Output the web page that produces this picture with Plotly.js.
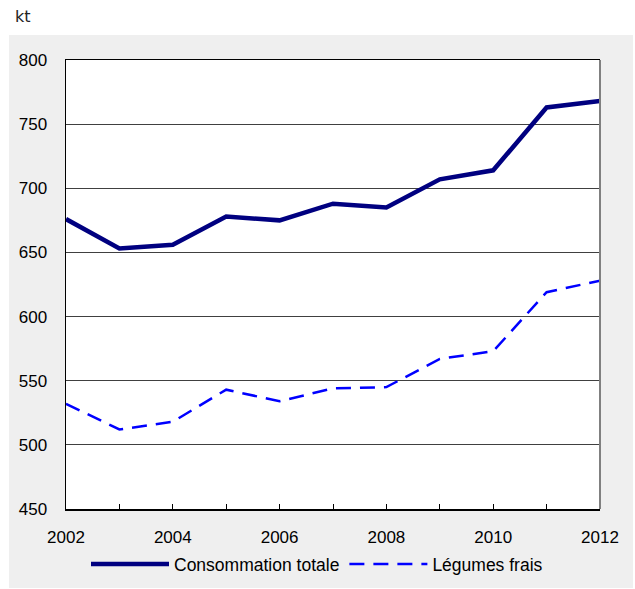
<!DOCTYPE html>
<html>
<head>
<meta charset="utf-8">
<script src="https://cdn.plot.ly/plotly-3.0.1.min.js"></script>
<style>html,body{margin:0;padding:0;background:#fff;}#chart{width:635px;height:589px;}</style>
</head>
<body>
<div id="chart"></div>
<script>
var years = [2002, 2003, 2004, 2005, 2006, 2007, 2008, 2009, 2010, 2011, 2012];
var consommationTotale = [676, 653, 656, 678, 675, 688, 685, 707, 714, 763, 768];
var legumesFrais = [532, 512, 518, 543, 534, 544, 545, 567, 573, 619, 628];
var xTickLabels = ['2002', '', '2004', '', '2006', '', '2008', '', '2010', '', '2012'];
var seriesNames = ['Consommation totale', 'Légumes frais'];
var unitLabel = 'kt';

var FONT = 'Liberation Sans, Arial, sans-serif';
var W = 635, H = 589, mL = 66, mR = 35, mT = 60, mB = 80;
var pw = W - mL - mR, ph = H - mT - mB;
function px(x) { return (x - mL) / pw; }
function py(y) { return (H - mB - y) / ph; }

var traces = [
  {x: years, y: consommationTotale, name: seriesNames[0], type: 'scatter', mode: 'lines',
   line: {color: '#000080', width: 4.5}},
  {x: years, y: legumesFrais, name: seriesNames[1], type: 'scatter', mode: 'lines',
   line: {color: '#0000ff', width: 2.5, dash: '15px,9px'}}
];

var layout = {
  width: W, height: H,
  margin: {l: mL, r: mR, t: mT, b: mB, pad: 0, autoexpand: false},
  paper_bgcolor: '#ffffff', plot_bgcolor: '#ffffff',
  font: {family: FONT, size: 17, color: '#000'},
  showlegend: true,
  legend: {orientation: 'h', x: px(86), xanchor: 'left', y: py(564), yanchor: 'middle',
           bgcolor: 'rgba(0,0,0,0)', font: {family: FONT, size: 17.5, color: '#000'},
           itemwidth: 78, tracegroupgap: 0, traceorder: 'normal'},
  xaxis: {range: [2002, 2012], tickvals: years, ticktext: xTickLabels,
          ticks: 'inside', ticklen: 5, tickcolor: '#000', tickwidth: 1,
          showgrid: false, zeroline: false, showline: true, linecolor: '#000', linewidth: 1.5,
          mirror: true, ticklabelstandoff: 12,
          tickfont: {family: FONT, size: 17, color: '#000'}, fixedrange: true},
  yaxis: {range: [450, 800], dtick: 50, tick0: 450, ticks: '', showgrid: true,
          gridcolor: '#404040', gridwidth: 1, zeroline: false, showline: true,
          linecolor: '#000', linewidth: 1.5, ticklabelstandoff: 14,
          tickfont: {family: FONT, size: 17, color: '#000'}, fixedrange: true},
  shapes: [
    {type: 'rect', xref: 'paper', yref: 'paper', x0: px(9), x1: px(633), y0: py(588), y1: py(35),
     fillcolor: '#efefef', line: {width: 0}, layer: 'below'},
    {type: 'rect', xref: 'paper', yref: 'paper', x0: 0, x1: 1, y0: 0, y1: 1,
     fillcolor: '#ffffff', line: {width: 0}, layer: 'below'},
    {type: 'line', xref: 'paper', yref: 'paper', x0: 1, x1: 1, y0: 0, y1: 1,
     line: {color: '#808080', width: 2}, layer: 'above'}
  ],
  annotations: [
    {text: unitLabel, xref: 'paper', yref: 'paper', x: px(13), y: py(17), xanchor: 'left',
     yanchor: 'middle', showarrow: false,
     font: {family: 'DejaVu Sans, Verdana, sans-serif', size: 16, color: '#222'}}
  ]
};

Plotly.newPlot('chart', traces, layout, {displayModeBar: false, staticPlot: true});
</script>
</body>
</html>
